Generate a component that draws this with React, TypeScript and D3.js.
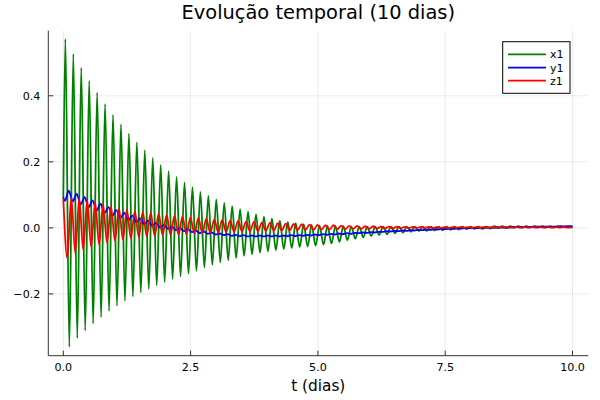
import React from "react";
import * as d3 from "d3";

// ---- data ----
const PERIOD = 0.156; // days per oscillation
const T_END = 10;

const X1_PEAK_PHASE = 0.04;
const X1_TROUGH_PHASE = 0.118;
const X1_START = 0.09;
const X1_END = 0.003;
const X1_PEAKS = [
  0.572, 0.527, 0.485, 0.446, 0.41, 0.375, 0.343, 0.313, 0.285, 0.259, 0.235, 0.212, 0.191, 0.172, 0.154, 0.138,
  0.123, 0.109, 0.097, 0.086, 0.076, 0.066, 0.057, 0.049, 0.041, 0.034, 0.028, 0.022, 0.018, 0.014, 0.011, 0.009,
  0.007, 0.006, 0.005, 0.005, 0.004, 0.004, 0.004, 0.004, 0.004, 0.004, 0.004, 0.004, 0.004, 0.004, 0.004, 0.004,
  0.004, 0.004, 0.004, 0.004, 0.004, 0.004, 0.005, 0.005, 0.005, 0.005, 0.005, 0.005, 0.005, 0.005, 0.005, 0.005,
];
const X1_TROUGHS = [
  -0.36, -0.334, -0.311, -0.29, -0.27, -0.252, -0.236, -0.221, -0.208, -0.196, -0.185, -0.174, -0.164, -0.155, -0.147, -0.139,
  -0.13, -0.12, -0.112, -0.105, -0.098, -0.091, -0.085, -0.08, -0.075, -0.071, -0.067, -0.064, -0.061, -0.058, -0.056, -0.054,
  -0.051, -0.047, -0.042, -0.037, -0.033, -0.029, -0.025, -0.022, -0.019, -0.016, -0.014, -0.012, -0.01, -0.009, -0.008, -0.007,
  -0.006, -0.005, -0.004, -0.003, -0.003, -0.002, -0.001, -0.001, 0.0, 0.0, 0.001, 0.001, 0.001, 0.001, 0.002, 0.002,
];

const Y1_PEAK_PHASE = 0.105;
const Y1_TROUGH_PHASE = 0.03;
const Y1_START = 0.092;
const Y1_END = 0.005;
const Y1_PEAKS = [
  0.113, 0.103, 0.093, 0.083, 0.073, 0.063, 0.054, 0.045, 0.037, 0.029, 0.022, 0.015, 0.009, 0.004, 0.0, -0.004,
  -0.008, -0.011, -0.014, -0.017, -0.019, -0.021, -0.022, -0.023, -0.023, -0.023, -0.023, -0.023, -0.022, -0.022, -0.021, -0.02,
  -0.019, -0.018, -0.017, -0.016, -0.015, -0.014, -0.013, -0.012, -0.01, -0.009, -0.008, -0.007, -0.006, -0.005, -0.004, -0.003,
  -0.002, -0.001, 0.0, 0.0, 0.001, 0.001, 0.002, 0.002, 0.003, 0.003, 0.003, 0.004, 0.004, 0.004, 0.005, 0.005,
];
const Y1_TROUGHS = [
  0.082, 0.08, 0.071, 0.062, 0.053, 0.045, 0.037, 0.03, 0.023, 0.017, 0.011, 0.006, 0.001, -0.003, -0.007, -0.01,
  -0.013, -0.016, -0.018, -0.02, -0.022, -0.024, -0.025, -0.026, -0.026, -0.026, -0.026, -0.026, -0.025, -0.025, -0.024, -0.023,
  -0.022, -0.021, -0.02, -0.019, -0.018, -0.016, -0.015, -0.014, -0.012, -0.011, -0.01, -0.009, -0.008, -0.007, -0.006, -0.005,
  -0.004, -0.003, -0.002, -0.001, -0.001, 0.0, 0.0, 0.001, 0.001, 0.002, 0.002, 0.003, 0.003, 0.003, 0.004, 0.004,
];

const Z1_PEAK_PHASE = 0.0;
const Z1_TROUGH_PHASE = 0.078;
const Z1_END = 0.0015;
const Z1_PEAKS = [
  0.088, 0.093, 0.09, 0.084, 0.077, 0.07, 0.064, 0.059, 0.055, 0.051, 0.048, 0.045, 0.042, 0.039, 0.037, 0.034,
  0.032, 0.03, 0.028, 0.026, 0.024, 0.022, 0.021, 0.019, 0.018, 0.016, 0.015, 0.014, 0.013, 0.012, 0.011, 0.01,
  0.009, 0.008, 0.008, 0.007, 0.006, 0.006, 0.005, 0.005, 0.004, 0.004, 0.004, 0.003, 0.003, 0.003, 0.003, 0.002,
  0.002, 0.002, 0.002, 0.002, 0.002, 0.002, 0.002, 0.002, 0.002, 0.002, 0.002, 0.002, 0.002, 0.002, 0.002, 0.002,
];
const Z1_TROUGHS = [
  -0.092, -0.077, -0.066, -0.057, -0.05, -0.044, -0.039, -0.035, -0.031, -0.028, -0.026, -0.024, -0.022, -0.021, -0.02, -0.019,
  -0.017, -0.016, -0.015, -0.014, -0.013, -0.012, -0.011, -0.01, -0.01, -0.009, -0.008, -0.008, -0.007, -0.007, -0.006, -0.006,
  -0.005, -0.005, -0.004, -0.004, -0.003, -0.003, -0.003, -0.002, -0.002, -0.002, -0.001, -0.001, -0.001, 0.0, 0.0, 0.0,
  0.0, 0.001, 0.001, 0.001, 0.001, 0.001, 0.001, 0.001, 0.001, 0.001, 0.001, 0.001, 0.001, 0.001, 0.001, 0.001,
];

const X_TICKS = [0, 2.5, 5, 7.5, 10];
const Y_TICKS = [-0.2, 0, 0.2, 0.4];
const SERIES_NAMES = ["x1", "y1", "z1"];
const SERIES_COLORS = ["#008000", "#0000ff", "#ff0000"];
const TITLE = "Evolução temporal (10 dias)";
const X_LABEL = "t (dias)";

// ---- layout ----
const W = 600;
const H = 400;
const PLOT = { left: 48.3, right: 588.3, top: 30.7, bottom: 355.7 };
const FONT = "'DejaVu Sans', sans-serif";

type Pt = [number, number];

function buildSeries(
  start: number | null,
  peaks: number[],
  troughs: number[],
  peakPhase: number,
  troughPhase: number,
  end: number
): Pt[] {
  const pts: Pt[] = [];
  if (start !== null) pts.push([0, start]);
  peaks.forEach((v, i) => pts.push([peakPhase + i * PERIOD, v]));
  troughs.forEach((v, i) => pts.push([troughPhase + i * PERIOD, v]));
  pts.sort((a, b) => a[0] - b[0]);
  const kept = pts.filter((p) => p[0] <= T_END);
  kept.push([T_END, end]);
  return kept;
}

export default function App() {
  const x = d3.scaleLinear().domain([-0.295, 10.31]).range([PLOT.left, PLOT.right]);
  const y = d3.scaleLinear().domain([-0.387, 0.597]).range([PLOT.bottom, PLOT.top]);

  const series: Pt[][] = [
    buildSeries(X1_START, X1_PEAKS, X1_TROUGHS, X1_PEAK_PHASE, X1_TROUGH_PHASE, X1_END),
    buildSeries(Y1_START, Y1_PEAKS, Y1_TROUGHS, Y1_PEAK_PHASE, Y1_TROUGH_PHASE, Y1_END),
    buildSeries(null, Z1_PEAKS, Z1_TROUGHS, Z1_PEAK_PHASE, Z1_TROUGH_PHASE, Z1_END),
  ];

  const line = d3
    .line<Pt>()
    .x((d) => x(d[0]))
    .y((d) => y(d[1]))
    .curve(d3.curveMonotoneX);

  const fmtY = (v: number) => (v < 0 ? "\u2212" + Math.abs(v).toFixed(1) : v.toFixed(1));
  const fmtX = (v: number) => v.toFixed(1);

  const legend = { x: 502.7, y: 41.7, w: 67.3, h: 51.6 };
  const legendRows = [54.3, 67.7, 80.7];

  return (
    <svg
      width={W}
      height={H}
      viewBox={`0 0 ${W} ${H}`}
      style={{ position: "fixed", left: 0, top: 0, background: "#fff" }}
      fontFamily={FONT}
    >
      <rect x={0} y={0} width={W} height={H} fill="#fff" />
      {/* grid */}
      <g stroke="#000" strokeOpacity={0.1} strokeWidth={0.8}>
        {X_TICKS.map((t) => (
          <line key={"gx" + t} x1={x(t)} x2={x(t)} y1={PLOT.top} y2={PLOT.bottom} />
        ))}
        {Y_TICKS.map((t) => (
          <line key={"gy" + t} x1={PLOT.left} x2={PLOT.right} y1={y(t)} y2={y(t)} />
        ))}
      </g>
      {/* series */}
      <g fill="none" strokeWidth={1.8} strokeLinejoin="round">
        {series.map((s, i) => (
          <path key={SERIES_NAMES[i]} d={line(s) || ""} stroke={SERIES_COLORS[i]} />
        ))}
      </g>
      {/* axes */}
      <g stroke="#333" strokeWidth={1}>
        <line x1={PLOT.left} x2={PLOT.left} y1={PLOT.top} y2={PLOT.bottom} />
        <line x1={PLOT.left} x2={PLOT.right} y1={PLOT.bottom} y2={PLOT.bottom} />
        {X_TICKS.map((t) => (
          <line key={"tx" + t} x1={x(t)} x2={x(t)} y1={PLOT.bottom} y2={PLOT.bottom - 5} />
        ))}
        {Y_TICKS.map((t) => (
          <line key={"ty" + t} x1={PLOT.left} x2={PLOT.left + 5} y1={y(t)} y2={y(t)} />
        ))}
      </g>
      <g fontSize={11.1} fill="#000">
        {X_TICKS.map((t) => (
          <text key={"lx" + t} x={x(t)} y={PLOT.bottom + 15} textAnchor="middle">
            {fmtX(t)}
          </text>
        ))}
        {Y_TICKS.map((t) => (
          <text key={"ly" + t} x={PLOT.left - 8} y={y(t) + 4} textAnchor="end">
            {fmtY(t)}
          </text>
        ))}
      </g>
      <text x={(PLOT.left + PLOT.right) / 2} y={19} textAnchor="middle" fontSize={19.4} fill="#000">
        {TITLE}
      </text>
      <text x={(PLOT.left + PLOT.right) / 2} y={391} textAnchor="middle" fontSize={15.3} fill="#000">
        {X_LABEL}
      </text>
      {/* legend */}
      <rect x={legend.x} y={legend.y} width={legend.w} height={legend.h} fill="#fff" stroke="#000" strokeWidth={1} />
      {SERIES_NAMES.map((n, i) => (
        <g key={"lg" + n}>
          <line x1={508} x2={546} y1={legendRows[i]} y2={legendRows[i]} stroke={SERIES_COLORS[i]} strokeWidth={1.8} />
          <text x={550} y={legendRows[i] + 4} fontSize={11.1} fill="#000">
            {n}
          </text>
        </g>
      ))}
    </svg>
  );
}
